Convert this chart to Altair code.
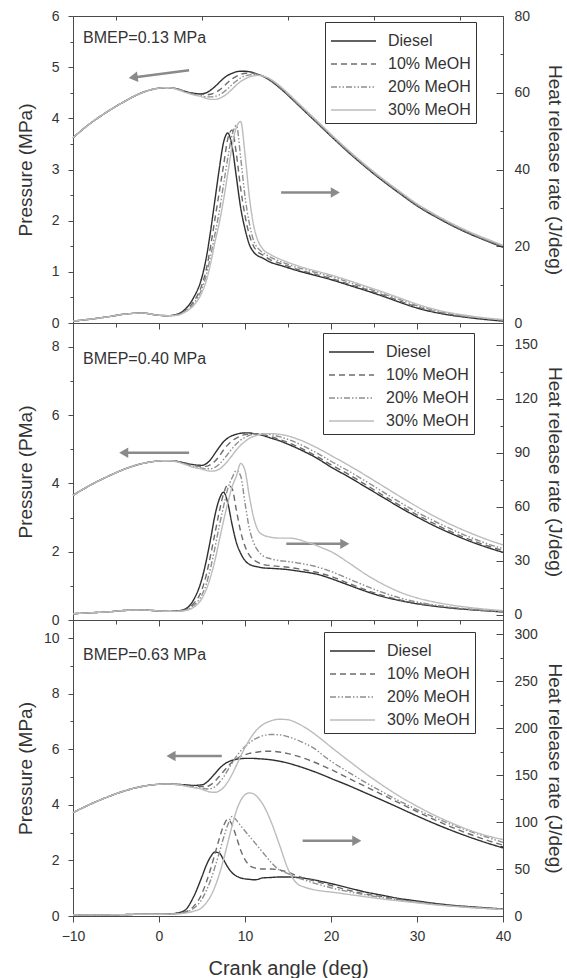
import altair as alt
import pandas as pd

SERIES = ["Diesel", "10% MeOH", "20% MeOH", "30% MeOH"]
COLORS = ["#2f2f2f", "#6c6c6c", "#8e8e8e", "#bcbcbc"]
DASHES = [[1, 0], [6, 4], [6, 2, 1.5, 2, 1.5, 2], [1, 0]]

ANGLE = [-10, -8, -6, -4, -2, 0, 1, 2, 3, 4, 5, 5.5, 6, 6.5, 7, 7.5, 8, 8.5, 9, 9.5,
         10, 10.5, 11, 11.5, 12, 13, 14, 15, 16, 17, 18, 19, 20, 22, 24, 26, 28, 30,
         32, 34, 36, 38, 40]

# ---------------- BMEP = 0.13 MPa ----------------
p1_diesel = [3.62,3.90,4.13,4.33,4.50,4.59,4.60,4.58,4.53,4.49, 4.48,4.50,4.55,4.62,4.70, 4.78,4.84,4.88,4.91,4.92, 4.92,4.91,4.89,4.86,4.83, 4.73,4.60,4.45,4.29,4.13, 3.97,3.81,3.65,3.34,3.05, 2.78,2.53,2.29,2.09,1.91, 1.75,1.61,1.48]
p1_m10 = [3.62,3.90,4.13,4.33,4.50,4.59,4.60,4.58,4.53,4.48, 4.47,4.46,4.47,4.50,4.55, 4.62,4.70,4.77,4.82,4.86, 4.88,4.89,4.88,4.86,4.83, 4.74,4.61,4.46,4.30,4.14, 3.98,3.82,3.66,3.35,3.06, 2.79,2.54,2.30,2.10,1.92, 1.76,1.62,1.49]
p1_m20 = [3.62,3.90,4.13,4.33,4.50,4.59,4.60,4.58,4.52,4.47, 4.44,4.42,4.42,4.43,4.46, 4.51,4.58,4.66,4.73,4.79, 4.83,4.85,4.86,4.85,4.83, 4.75,4.62,4.47,4.31,4.15, 3.99,3.83,3.67,3.36,3.07, 2.80,2.55,2.31,2.11,1.93, 1.77,1.63,1.50]
p1_m30 = [3.62,3.90,4.13,4.33,4.50,4.59,4.60,4.57,4.51,4.46, 4.42,4.39,4.37,4.37,4.39, 4.43,4.49,4.57,4.65,4.72, 4.77,4.81,4.83,4.84,4.83, 4.76,4.64,4.49,4.33,4.17, 4.01,3.85,3.69,3.38,3.09, 2.82,2.57,2.33,2.13,1.95, 1.79,1.65,1.52]

h1_diesel = [0.5,1.0,1.6,2.3,2.6,2.0,1.9,2.2,3.5,6.5, 12,17,24,32,40, 47,49.5,46,38,30, 24.5,20.5,18.5,17.5,17.0, 15.8,15.1,14.4,13.7,13.1, 12.5,11.9,11.3,9.9,8.5, 7.0,5.4,3.9,2.8,2.0, 1.4,0.9,0.5]
h1_m10 = [0.5,1.0,1.6,2.3,2.6,2.0,1.9,2.1,3.2,5.5, 10,14,20,27,34, 41,48,50.3,44,35, 28,23,20,18.5,17.8, 16.4,15.6,14.8,14.0,13.4, 12.8,12.2,11.6,10.2,8.8, 7.3,5.7,4.2,3.0,2.2, 1.5,1.0,0.6]
h1_m20 = [0.5,1.0,1.6,2.3,2.6,2.0,1.9,2.0,3.0,5.0, 9,12.5,17.5,23,29, 36,43,49,51.5,43, 33,26,21.5,19.5,18.5, 17.1,16.1,15.3,14.5,13.9, 13.3,12.7,12.1,10.7,9.2, 7.7,6.1,4.5,3.3,2.4, 1.7,1.2,0.8]
h1_m30 = [0.5,1.0,1.6,2.3,2.6,2.0,1.9,2.0,2.8,4.5, 8,11,15.5,21,26, 32,39,46,51,52.5, 44,33,25.5,21.5,19.5, 17.8,16.7,15.8,15.0,14.3, 13.7,13.1,12.5,11.1,9.6, 8.1,6.5,4.9,3.6,2.6, 1.9,1.3,0.9]

# ---------------- BMEP = 0.40 MPa ----------------
p2_diesel = [3.65,3.95,4.20,4.42,4.58,4.66,4.67,4.65,4.60,4.55, 4.53,4.58,4.70,4.88,5.06, 5.22,5.33,5.40,5.44,5.47, 5.48,5.48,5.46,5.44,5.41, 5.33,5.25,5.15,5.04,4.92, 4.79,4.64,4.48,4.20,3.90, 3.60,3.30,3.02,2.76,2.53, 2.32,2.14,1.98]
p2_m10 = [3.65,3.95,4.20,4.42,4.58,4.66,4.67,4.65,4.59,4.52, 4.50,4.50,4.55,4.65,4.80, 4.98,5.13,5.25,5.33,5.39, 5.43,5.45,5.46,5.45,5.43, 5.37,5.29,5.20,5.09,4.97, 4.84,4.70,4.55,4.27,3.97, 3.66,3.36,3.08,2.82,2.58, 2.37,2.19,2.03]
p2_m20 = [3.65,3.95,4.20,4.42,4.58,4.66,4.67,4.64,4.57,4.49, 4.45,4.43,4.43,4.47,4.56, 4.70,4.86,5.02,5.16,5.27, 5.35,5.41,5.44,5.46,5.46, 5.43,5.37,5.29,5.19,5.07, 4.94,4.80,4.65,4.37,4.07, 3.76,3.45,3.16,2.90,2.66, 2.44,2.25,2.09]
p2_m30 = [3.65,3.95,4.20,4.42,4.58,4.66,4.67,4.64,4.56,4.47, 4.42,4.38,4.36,4.37,4.42, 4.52,4.66,4.82,4.98,5.12, 5.23,5.32,5.38,5.42,5.45, 5.46,5.44,5.39,5.31,5.21, 5.09,4.96,4.82,4.54,4.24, 3.93,3.62,3.32,3.04,2.79, 2.57,2.37,2.20]

h2_diesel = [0.5,1.0,1.5,2.3,2.6,2.0,1.8,2.0,3.0,8, 20,30,42,55,64, 68,62,50,40,34, 30,28,27,26.5,26, 25.7,25.4,25,24.3,23.6, 22.8,21.6,20,16.5,13, 10,7.8,6,4.7,3.6, 2.8,2.1,1.5]
h2_m10 = [0.5,1.0,1.5,2.3,2.6,2.0,1.8,1.9,2.6,6, 14,22,33,45,57, 67,72,70,58,46, 38,33,30.5,29,28, 27.2,26.8,26.3,25.6,24.8, 23.8,22.6,21.2,17.5,13.8, 10.6,8.2,6.3,4.9,3.8, 2.9,2.2,1.6]
h2_m20 = [0.5,1.0,1.5,2.3,2.6,2.0,1.8,1.8,2.4,5, 11,17,26,37,49, 60,70,76,80,77, 62,48,40,35.5,33, 31,30,29.5,28.8,28, 27,25.6,24,20,16, 12.3,9.3,7,5.4,4.1, 3.1,2.3,1.7]
h2_m30 = [0.5,1.0,1.5,2.3,2.6,2.0,1.8,1.8,2.2,4, 9,14,21,30,41, 52,62,71,77,84, 80,66,54,47,44.5, 43,42.5,42.5,42,40.5, 39,37,35,29,22.5, 17,12.5,9.3,7,5.3, 4,3,2.2]

# ---------------- BMEP = 0.63 MPa ----------------
p3_diesel = [3.72,4.02,4.28,4.50,4.66,4.74,4.75,4.74,4.72,4.70, 4.72,4.80,4.95,5.12,5.30, 5.44,5.54,5.60,5.64,5.66, 5.67,5.67,5.67,5.66,5.65, 5.62,5.57,5.50,5.41,5.31, 5.20,5.08,4.95,4.70,4.43, 4.16,3.88,3.60,3.33,3.08, 2.85,2.64,2.45]
p3_m10 = [3.72,4.02,4.28,4.50,4.66,4.74,4.75,4.74,4.71,4.67, 4.66,4.66,4.72,4.85,5.02, 5.20,5.38,5.53,5.65,5.74, 5.80,5.85,5.88,5.90,5.92, 5.93,5.90,5.84,5.76,5.66, 5.54,5.41,5.27,4.96,4.66, 4.36,4.06,3.76,3.47,3.20, 2.96,2.74,2.55]
p3_m20 = [3.72,4.02,4.28,4.50,4.66,4.74,4.75,4.73,4.69,4.64, 4.60,4.57,4.58,4.65,4.80, 5.00,5.25,5.50,5.74,5.94, 6.10,6.23,6.34,6.42,6.48, 6.53,6.52,6.45,6.34,6.20, 6.04,5.80,5.57,5.18,4.81, 4.46,4.13,3.83,3.55,3.29, 3.06,2.85,2.65]
p3_m30 = [3.72,4.02,4.28,4.50,4.66,4.74,4.75,4.73,4.68,4.62, 4.56,4.50,4.46,4.45,4.50, 4.62,4.83,5.10,5.42,5.75, 6.06,6.33,6.56,6.74,6.87, 7.02,7.08,7.06,6.95,6.78, 6.57,6.33,6.08,5.60,5.13, 4.70,4.30,3.95,3.63,3.35, 3.10,2.90,2.75]

h3_diesel = [1,1,1.2,1.5,1.8,1.8,2,3,6,20, 42,54,63,68,67, 60,52,46,42.5,40.5, 39.5,39,38.5,39,40.5, 41,41.5,41.5,41,40, 38.5,36.5,34.5,30,25.5, 22,18.5,16,13.5,11.5, 10,8.7,7.5]
h3_m10 = [1,1,1.2,1.5,1.8,1.8,2,2.6,4,10, 24,36,50,66,82, 96,103,97,84,70, 60,54,51.5,50.5,50, 50,49,46.5,43,40, 37.5,35,32.5,27.5,23.5, 20.5,17.5,15,12.8,11, 9.6,8.3,7.2]
h3_m20 = [1,1,1.2,1.5,1.8,1.8,2,2.4,3.5,8, 18,27,38,52,67, 83,97,106,102,96, 90.5,85,79.5,74,68.5, 57.5,49,45,41,38, 35,32.5,30,26,22.5, 19.5,16.8,14.5,12.4,10.7, 9.3,8.1,7.0]
h3_m30 = [1,1,1.2,1.5,1.8,1.8,2,2.2,3,5, 9,14,21,31,44, 60,78,96,112,123, 129,131,130,126,120, 101,76,50,35,30.5, 28,26.5,25.5,23,20.5, 18,16,14,12,10.5, 9,8,7]

# arrow annotations (tail -> head, in crank angle / pressure units)
arrow1_a0 = [3.5, 14.2];  arrow1_a1 = [-3.0, 20.5]; arrow1_p0 = [4.94, 2.55]; arrow1_p1 = [4.80, 2.55]; arrow1_rot = [352, 0]
arrow2_a0 = [3.5, 14.8];  arrow2_a1 = [-4.1, 21.6]; arrow2_p0 = [4.90, 2.23]; arrow2_p1 = [4.90, 2.23]; arrow2_rot = [0, 0]
arrow3_a0 = [7.3, 16.7];  arrow3_a1 = [1.4, 23.0];  arrow3_p0 = [5.76, 2.71]; arrow3_p1 = [5.76, 2.71]; arrow3_rot = [0, 0]

TEXT = "#333333"
AX = "#4a4a4a"
ARROW = "#8a8a8a"
W = 430


def long_df(series_values, col):
    rows = []
    for s, vals in zip(SERIES, series_values):
        for a, v in zip(ANGLE, vals):
            rows.append({"angle": a, "series": s, col: v})
    return pd.DataFrame(rows)


def make_panel(pvals, hvals, arrows, pdom, hdom, pmaj, pmin, hmaj, hmin,
               ptitle, note, note_y, leg_x, leg_y, h, bottom):
    pdf = long_df(pvals, "p")
    hdf = long_df(hvals, "h")
    a0, a1, p0, p1, rot = arrows
    arr_df = pd.DataFrame({"angle": a0, "angle2": a1, "p": p0, "p2": p1})
    head_df = pd.DataFrame({"angle": a1, "p": p1,
                            "shape": ["triangle-left", "triangle-right"], "rot": rot})

    xs = alt.Scale(domain=[-10, 40], nice=False, zero=False)
    ps = alt.Scale(domain=pdom, nice=False, zero=False)
    hs = alt.Scale(domain=hdom, nice=False, zero=False)

    legend = alt.Legend(orient="none", legendX=leg_x, legendY=leg_y,
                        title=" ", titleFontSize=6, titlePadding=0,
                        symbolType="stroke", symbolSize=2025, symbolStrokeWidth=1.5,
                        labelFontSize=16, labelColor=TEXT, labelOffset=11,
                        labelExpr="datum.label + '\u00a0\u00a0\u00a0'", clipHeight=16,
                        rowPadding=7, padding=5, strokeColor="#333333",
                        fillColor="white")
    color = alt.Color("series:N", sort=SERIES,
                      scale=alt.Scale(domain=SERIES, range=COLORS), legend=legend)
    dash = alt.StrokeDash("series:N", sort=SERIES,
                          scale=alt.Scale(domain=SERIES, range=DASHES), legend=legend)

    if bottom:
        xaxis = alt.Axis(values=[-10, 0, 10, 20, 30, 40], tickSize=6, labelPadding=7,
                         labelFlush=False, title="Crank angle (deg)", titleY=52,
                         titleBaseline="middle", titleFontSize=20)
    else:
        xaxis = alt.Axis(values=[-10, 0, 10, 20, 30, 40], tickSize=6, labels=False,
                         title=None)
    X = alt.X("angle:Q", scale=xs, axis=xaxis)
    Yp = alt.Y("p:Q", scale=ps,
               axis=alt.Axis(orient="left", values=pmaj, tickSize=5, labelPadding=9,
                             labelFlush=False, title=ptitle, titleX=-38, titleY=h / 2,
                             titleAngle=270, titleBaseline="bottom", titleAlign="center"))

    plines = alt.Chart(pdf).mark_line(strokeWidth=1.4, interpolate="monotone").encode(
        x=X, y=Yp, color=color, strokeDash=dash)
    rules = alt.Chart(arr_df).mark_rule(color=ARROW, strokeWidth=2.5).encode(
        x=X, x2="angle2:Q", y=Yp, y2="p2:Q")
    heads = alt.Chart(head_df).mark_point(filled=True, opacity=1, color=ARROW, size=110).encode(
        x=X, y=Yp, shape=alt.Shape("shape:N", scale=None),
        angle=alt.Angle("rot:Q", scale=None))
    label = alt.Chart(pd.DataFrame({"t": [note]})).mark_text(
        align="left", baseline="middle", fontSize=16, color=TEXT).encode(
        text="t:N", x=alt.value(10), y=alt.value(note_y))
    left = alt.layer(plines, rules, heads, label)

    minor = alt.Chart(pdf).mark_line(opacity=0).encode(
        x=alt.X("angle:Q", scale=xs,
                axis=alt.Axis(values=[-5, 5, 15, 25, 35], tickSize={"expr": "-4"},
                              labels=False, domain=False, title=None)),
        y=alt.Y("p:Q", scale=ps,
                axis=alt.Axis(orient="left", values=pmin, tickSize=3, labels=False,
                              domain=False, title=None)))

    hlines = alt.Chart(hdf).mark_line(strokeWidth=1.4, interpolate="monotone").encode(
        x=alt.X("angle:Q", scale=xs, axis=None),
        y=alt.Y("h:Q", scale=hs,
                axis=alt.Axis(orient="right", values=hmaj, tickSize={"expr": "-7"},
                              labelPadding=18, labelFlush=False,
                              title="Heat release rate (J/deg)", titleX=41, titleY=h / 2,
                              titleAngle=90, titleBaseline="bottom", titleAlign="center")),
        color=color, strokeDash=dash)
    hminor = alt.Chart(hdf).mark_line(opacity=0).encode(
        x=alt.X("angle:Q", scale=xs, axis=None),
        y=alt.Y("h:Q", scale=hs,
                axis=alt.Axis(orient="right", values=hmin, tickSize={"expr": "-3"},
                              labels=False, domain=False, title=None)))

    return alt.layer(left, minor, hlines, hminor).resolve_scale(
        x="independent", y="independent").properties(width=W, height=h)


panel1 = make_panel([p1_diesel, p1_m10, p1_m20, p1_m30], [h1_diesel, h1_m10, h1_m20, h1_m30],
                    (arrow1_a0, arrow1_a1, arrow1_p0, arrow1_p1, arrow1_rot),
                    [0, 6], [0, 80], [0, 1, 2, 3, 4, 5, 6], [0.5, 1.5, 2.5, 3.5, 4.5, 5.5],
                    [0, 20, 40, 60, 80], [10, 30, 50, 70],
                    "Pressure (MPa)", "BMEP=0.13 MPa", 22, 252, 6, 307, False)
panel2 = make_panel([p2_diesel, p2_m10, p2_m20, p2_m30], [h2_diesel, h2_m10, h2_m20, h2_m30],
                    (arrow2_a0, arrow2_a1, arrow2_p0, arrow2_p1, arrow2_rot),
                    [0, 8.7], [-3, 162], [0, 2, 4, 6, 8], [1, 3, 5, 7],
                    [0, 30, 60, 90, 120, 150], [15, 45, 75, 105, 135],
                    "Pressure (PMa)", "BMEP=0.40 MPa", 36, 250, 10, 297, False)
panel3 = make_panel([p3_diesel, p3_m10, p3_m20, p3_m30], [h3_diesel, h3_m10, h3_m20, h3_m30],
                    (arrow3_a0, arrow3_a1, arrow3_p0, arrow3_p1, arrow3_rot),
                    [0, 10.65], [0, 315], [0, 2, 4, 6, 8, 10], [1, 3, 5, 7, 9],
                    [0, 50, 100, 150, 200, 250, 300], [25, 75, 125, 175, 225, 275],
                    "Pressure (MPa)", "BMEP=0.63 MPa", 35, 251, 12, 296, True)

chart = alt.vconcat(panel1, panel2, panel3, spacing=0, bounds="flush").resolve_scale(
    color="independent", strokeDash="independent").resolve_legend(
    color="independent", strokeDash="independent").properties(
    padding={"left": 15, "top": 8, "right": 0, "bottom": 0}
).configure(font="Liberation Sans").configure_axis(
    labelFontSize=14, labelColor=TEXT, titleFontSize=19, titleFontWeight="normal",
    titleColor=TEXT, domainColor=AX, tickColor=AX, grid=False, domainWidth=1, tickWidth=1
).configure_view(stroke=AX, strokeWidth=1)

chart.save("out.html", embed_options={"renderer": "svg", "actions": False})
